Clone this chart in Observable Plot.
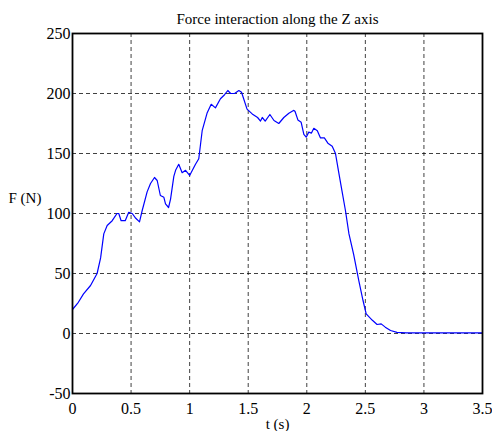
<!DOCTYPE html>
<html>
<head>
<meta charset="utf-8">
<script src="https://cdn.jsdelivr.net/npm/d3@7"></script>
<script src="https://cdn.jsdelivr.net/npm/@observablehq/plot@0.6"></script>
<style>
  html, body { margin: 0; padding: 0; background: #fff; }
  svg { display: block; }
  #chart svg, #chart svg text { font-family: "Liberation Serif", "DejaVu Serif", serif !important; }
</style>
</head>
<body>
<div id="chart"></div>
<script>
const title = "Force interaction along the Z axis";
const xLabel = "t (s)";
const yLabel = "F (N)";
const xTicks = [0, 0.5, 1, 1.5, 2, 2.5, 3, 3.5];
const yTicks = [-50, 0, 50, 100, 150, 200, 250];

const tValues = [0, 0.05, 0.094, 0.154, 0.21, 0.24, 0.267, 0.296, 0.339, 0.38, 0.395, 0.415, 0.45, 0.48, 0.51, 0.54, 0.572, 0.595, 0.637, 0.666, 0.70, 0.723, 0.75, 0.78, 0.794, 0.82, 0.837, 0.865, 0.88, 0.907, 0.936, 0.965, 1.0, 1.05, 1.078, 1.107, 1.15, 1.184, 1.22, 1.263, 1.298, 1.326, 1.35, 1.384, 1.42, 1.443, 1.49, 1.534, 1.58, 1.605, 1.62, 1.645, 1.685, 1.72, 1.761, 1.804, 1.847, 1.89, 1.90, 1.924, 1.952, 1.975, 1.995, 2.017, 2.04, 2.06, 2.09, 2.117, 2.15, 2.18, 2.217, 2.245, 2.273, 2.30, 2.33, 2.36, 2.40, 2.444, 2.48, 2.507, 2.56, 2.60, 2.635, 2.67, 2.715, 2.77, 2.85, 3.5];
const forceValues = [20, 26, 33, 40, 50, 63, 83, 90, 94, 100, 100, 94, 94, 101, 100, 96, 93, 102.5, 118, 125, 130, 127.5, 115, 113.5, 108, 105, 112, 131, 136, 141, 134, 136, 131.7, 141, 145.6, 169, 184, 191, 188, 195.6, 199, 202.5, 200, 200, 202.5, 201, 187, 183, 180, 177, 180, 177, 182.5, 177.5, 175, 180, 183.6, 186, 185, 178, 176, 166, 163.6, 167.8, 167, 171, 169, 163, 163, 158.6, 156, 150, 134, 119, 102.5, 83, 66, 44, 27.5, 16.4, 11, 7.5, 8, 5.3, 2.5, 1, 0.5, 0.5];

const data = tValues.map((t, i) => ({t, f: forceValues[i]}));
const font = "Liberation Serif";

const chart = Plot.plot({
  width: 492,
  height: 431,
  marginLeft: 72,
  marginRight: 10,
  marginTop: 33,
  marginBottom: 38,
  style: {fontFamily: font, fontSize: "16px", color: "#000", background: "#fff"},
  x: {domain: [0, 3.5], ticks: xTicks, tickFormat: d => String(d), label: null},
  y: {domain: [-50, 250], ticks: yTicks, tickFormat: d => String(d), label: null},
  marks: [
    Plot.gridX(xTicks, {stroke: "#000", strokeOpacity: 0.75, strokeDasharray: "4,3"}),
    Plot.gridY(yTicks, {stroke: "#000", strokeOpacity: 0.75, strokeDasharray: "4,3"}),
    Plot.axisX(xTicks, {tickSize: 0, tickPadding: 9, tickFormat: d => String(d), fontSize: 16, fontFamily: font, label: null}),
    Plot.axisY(yTicks, {tickSize: 0, tickPadding: 2, tickFormat: d => String(d), fontSize: 16, fontFamily: font, label: null}),
    Plot.line(data, {x: "t", y: "f", stroke: "#0000ff", strokeWidth: 1.2}),
    Plot.frame({stroke: "#000", strokeWidth: 1.8}),
    Plot.text([title], {frameAnchor: "top", lineAnchor: "middle", dy: -14, fontSize: 15, fontFamily: font, text: d => d}),
    Plot.text([xLabel], {frameAnchor: "bottom", lineAnchor: "middle", dy: 31, fontSize: 15, fontFamily: font, text: d => d}),
    Plot.text([yLabel], {frameAnchor: "left", lineAnchor: "middle", textAnchor: "start", dx: -64, dy: -15, fontSize: 15, fontFamily: font, text: d => d})
  ]
});
document.getElementById("chart").appendChild(chart);
</script>
</body>
</html>
